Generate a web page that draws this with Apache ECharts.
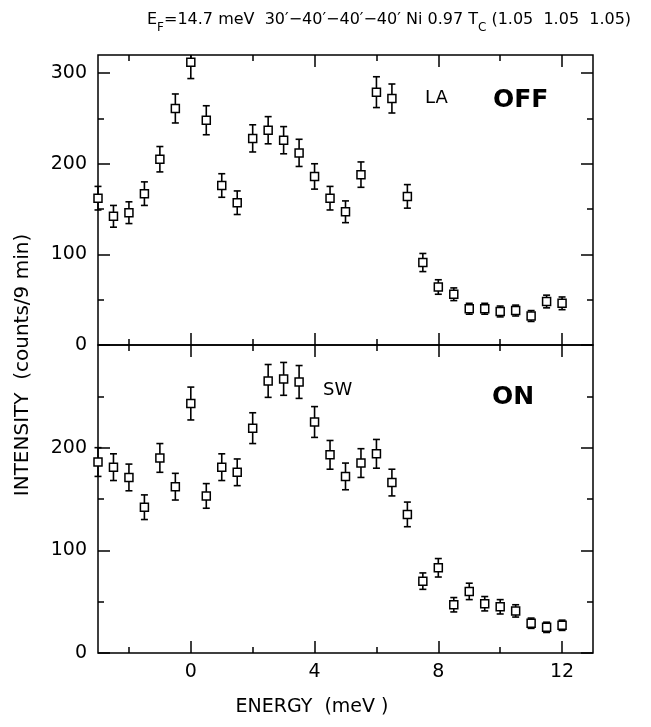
<!DOCTYPE html>
<html>
<head>
<meta charset="utf-8">
<script src="https://cdn.jsdelivr.net/npm/echarts@6/dist/echarts.min.js"></script>
<style>
  html, body { margin: 0; padding: 0; background: #fff; }
  #chart { width: 651px; height: 727px; }
</style>
</head>
<body>
<div id="chart"></div>
<script>
// energy transfer (meV), one point every 0.5 meV
const energy = [-3, -2.5, -2, -1.5, -1, -0.5, 0, 0.5, 1, 1.5, 2, 2.5, 3, 3.5, 4, 4.5,
  5, 5.5, 6, 6.5, 7, 7.5, 8, 8.5, 9, 9.5, 10, 10.5, 11, 11.5, 12];

// field OFF (top panel)
const offCounts = [162, 142, 146, 167, 205, 261, 312, 248, 176, 157, 228, 237, 226, 212, 186, 162,
  147, 188, 279, 272, 164, 91, 64, 56, 40, 40, 37, 38, 32, 48, 46];
const offErr = [13, 12, 12, 13, 14, 16, 18, 16, 13, 13, 15, 15, 15, 15, 14, 13,
  12, 14, 17, 16, 13, 10, 8, 7, 6, 6, 6, 6, 6, 7, 7];

// field ON (bottom panel)
const onCounts = [186, 181, 171, 142, 190, 162, 243, 153, 181, 176, 219, 265, 267, 264, 225, 193,
  172, 185, 194, 166, 135, 70, 83, 47, 60, 48, 45, 41, 29, 25, 27];
const onErr = [14, 13, 13, 12, 14, 13, 16, 12, 13, 13, 15, 16, 16, 16, 15, 14,
  13, 14, 14, 13, 12, 8, 9, 7, 8, 7, 7, 6, 5, 5, 5];

// ticks and labels
const xMajor = [0, 4, 8, 12];
const xMinor = [-2, 2, 6, 10];
const yMajor = [0, 100, 200, 300];
const yMinor = [50, 150, 250];
const topYLabels = [0, 100, 200, 300];
const bottomYLabels = [0, 100, 200];

const X_MIN = -3, X_MAX = 13;
const TOP_MAX = 320, BOTTOM_MAX = 300;
const FONT = "DejaVu Sans";

const chart = echarts.init(document.getElementById("chart"));

const tickStyle = { color: "#000", width: 1.5 };

// one axis = one set of ticks (major or minor) on one side of one panel
function xAx(grid, position, ticks, len, labels) {
  return {
    type: "value", gridIndex: grid, position: position,
    min: X_MIN, max: X_MAX,
    axisLine: { show: false, onZero: false },
    splitLine: { show: false },
    axisTick: { show: true, inside: true, length: len, lineStyle: tickStyle, customValues: ticks },
    axisLabel: labels
      ? { show: true, customValues: labels, fontFamily: FONT, fontSize: 19, color: "#000", margin: 10 }
      : { show: false }
  };
}

function yAx(grid, position, max, ticks, len, labels) {
  return {
    type: "value", gridIndex: grid, position: position,
    min: 0, max: max,
    axisLine: { show: false, onZero: false },
    splitLine: { show: false },
    axisTick: { show: true, inside: true, length: len, lineStyle: tickStyle, customValues: ticks },
    axisLabel: labels
      ? { show: true, customValues: labels, fontFamily: FONT, fontSize: 19, color: "#000", margin: 11 }
      : { show: false }
  };
}

const xAxes = [];
const yAxes = [];
[0, 1].forEach(function (g) {
  const ymax = g === 0 ? TOP_MAX : BOTTOM_MAX;
  xAxes.push(xAx(g, "bottom", xMajor, 12, g === 1 ? xMajor : null));
  xAxes.push(xAx(g, "top", xMajor, 12, null));
  xAxes.push(xAx(g, "bottom", xMinor, 6, null));
  xAxes.push(xAx(g, "top", xMinor, 6, null));
  yAxes.push(yAx(g, "left", ymax, yMajor, 12, g === 0 ? topYLabels : bottomYLabels));
  yAxes.push(yAx(g, "right", ymax, yMajor, 12, null));
  yAxes.push(yAx(g, "left", ymax, yMinor, 6, null));
  yAxes.push(yAx(g, "right", ymax, yMinor, 6, null));
});

function errorBars(counts, err, grid, ymax) {
  return {
    type: "custom",
    xAxisIndex: grid * 4,
    yAxisIndex: grid * 4,
    z: 2,
    silent: true,
    data: energy.map(function (e, i) { return [e, counts[i], err[i]]; }),
    renderItem: function (params, api) {
      const x = api.value(0), v = api.value(1), e = api.value(2);
      const hi = Math.min(v + e, ymax);
      const pTop = api.coord([x, hi]);
      const pBot = api.coord([x, v - e]);
      const cap = 3.5;
      const st = { stroke: "#000", lineWidth: 1.6 };
      const children = [
        { type: "line", shape: { x1: pTop[0], y1: pTop[1], x2: pBot[0], y2: pBot[1] }, style: st },
        { type: "line", shape: { x1: pBot[0] - cap, y1: pBot[1], x2: pBot[0] + cap, y2: pBot[1] }, style: st }
      ];
      if (v + e < ymax) {
        children.push({ type: "line", shape: { x1: pTop[0] - cap, y1: pTop[1], x2: pTop[0] + cap, y2: pTop[1] }, style: st });
      }
      return { type: "group", children: children };
    }
  };
}

function points(counts, grid) {
  return {
    type: "scatter",
    xAxisIndex: grid * 4,
    yAxisIndex: grid * 4,
    z: 3,
    clip: false,
    symbol: "rect",
    symbolSize: 8,
    itemStyle: { color: "#fff", borderColor: "#000", borderWidth: 1.5, opacity: 1 },
    emphasis: { disabled: true },
    data: energy.map(function (e, i) { return [e, counts[i]]; })
  };
}

const option = {
  animation: false,
  backgroundColor: "#fff",
  grid: [
    { left: 98, width: 495, top: 55, height: 290, show: true, borderColor: "#000", borderWidth: 1.5, backgroundColor: "transparent" },
    { left: 98, width: 495, top: 345, height: 308, show: true, borderColor: "#000", borderWidth: 1.5, backgroundColor: "transparent" }
  ],
  xAxis: xAxes,
  yAxis: yAxes,
  series: [
    errorBars(offCounts, offErr, 0, TOP_MAX),
    points(offCounts, 0),
    errorBars(onCounts, onErr, 1, BOTTOM_MAX),
    points(onCounts, 1)
  ],
  graphic: [
    {
      type: "text", left: 147, top: 12,
      style: {
        text: "{n|E}{s|F}{n|=14.7 meV  30\u2032\u221240\u2032\u221240\u2032\u221240\u2032 Ni 0.97 T}{s|C}{n| (1.05  1.05  1.05)}",
        rich: {
          n: { fontFamily: FONT, fontSize: 16, fill: "#000", verticalAlign: "top", lineHeight: 26, padding: [0, 0, 0, 0] },
          s: { fontFamily: FONT, fontSize: 12, fill: "#000", verticalAlign: "top", lineHeight: 26, padding: [10, 0, 0, 0] }
        }
      }
    },
    {
      type: "text", x: 23, y: 365, rotation: Math.PI / 2,
      style: { text: "INTENSITY  (counts/9 min)", fontFamily: FONT, fontSize: 20, fill: "#000", align: "center", verticalAlign: "middle" }
    },
    {
      type: "text", x: 312, y: 707,
      style: { text: "ENERGY  (meV )", fontFamily: FONT, fontSize: 19, fill: "#000", align: "center", verticalAlign: "middle" }
    },
    { type: "text", x: 425, y: 98, style: { text: "LA", fontFamily: FONT, fontSize: 18, fill: "#000", verticalAlign: "middle" } },
    { type: "text", x: 493, y: 100, style: { text: "OFF", fontFamily: FONT, fontSize: 25, fontWeight: "bold", fill: "#000", verticalAlign: "middle" } },
    { type: "text", x: 323, y: 390, style: { text: "SW", fontFamily: FONT, fontSize: 18, fill: "#000", verticalAlign: "middle" } },
    { type: "text", x: 492, y: 397, style: { text: "ON", fontFamily: FONT, fontSize: 25, fontWeight: "bold", fill: "#000", verticalAlign: "middle" } }
  ]
};

chart.setOption(option);
</script>
</body>
</html>
